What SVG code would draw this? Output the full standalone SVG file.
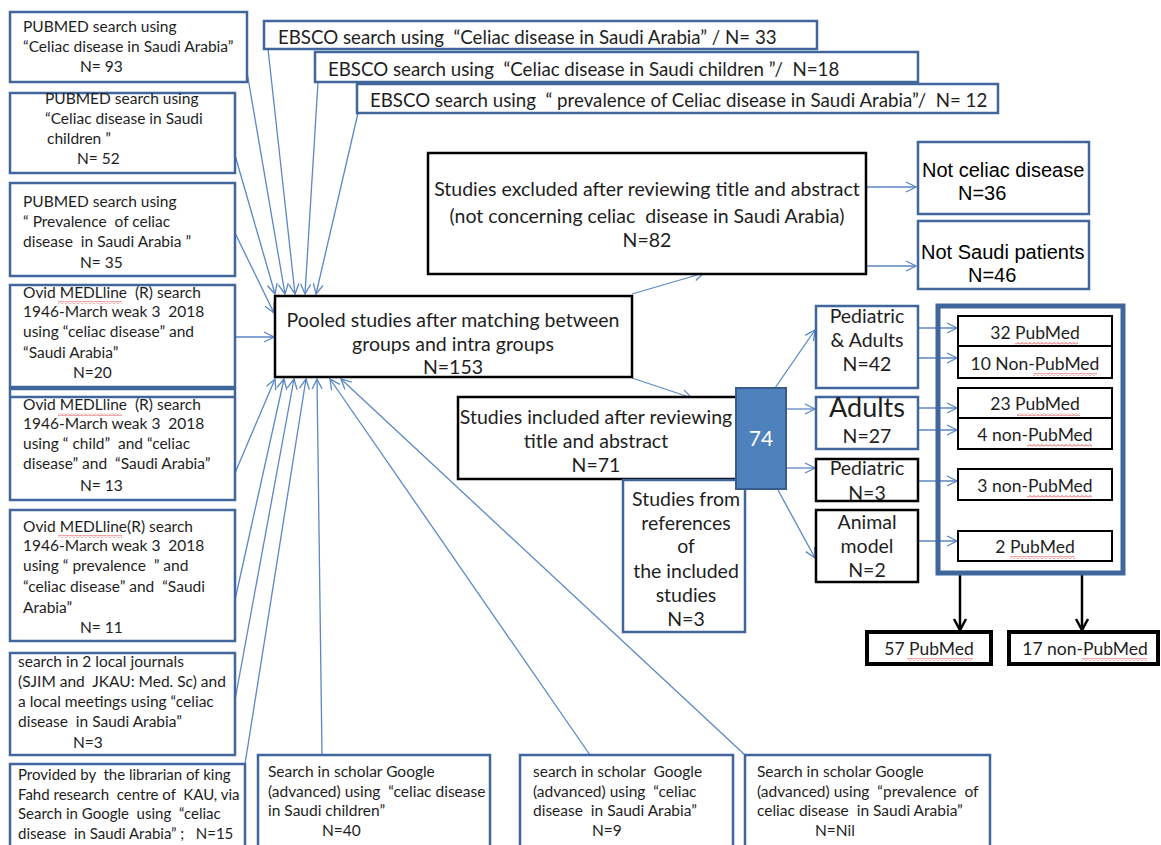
<svg xmlns="http://www.w3.org/2000/svg" width="1161" height="845" viewBox="0 0 1161 845" xml:space="preserve">
<defs>
<style>
.bx{fill:#fff;stroke:#41669b;stroke-width:2.5}
.bk{fill:#fff;stroke:#000;stroke-width:2.5}
.t{font-family:Lato,"Liberation Sans",sans-serif;fill:#1e1e1e;white-space:pre}
.s{font-size:15.5px}
.e{font-size:18.7px}
.m{font-size:19.5px}
.c{text-anchor:middle}
.a{font-family:"Liberation Sans",Arial,sans-serif;font-size:20px;fill:#000}
.cn line,.cn path{stroke:#5b87c5;stroke-width:1.3;fill:none;marker-end:url(#ah)}
.cn .bl{stroke:#000;stroke-width:2.5;marker-end:url(#ab)}
.sq{fill:url(#wave)}
</style>
<marker id="ah" viewBox="0 0 12 12" refX="11" refY="6" markerWidth="12" markerHeight="12" markerUnits="userSpaceOnUse" orient="auto"><path d="M1,1 L11,6 L1,11" fill="none" stroke="#5b87c5" stroke-width="1.3"/></marker>
<marker id="ab" viewBox="0 0 14 14" refX="12" refY="7" markerWidth="14" markerHeight="14" markerUnits="userSpaceOnUse" orient="auto"><path d="M1,1 L12,7 L1,13" fill="none" stroke="#000" stroke-width="2.5"/></marker>
<pattern id="wave" width="4" height="3" patternUnits="userSpaceOnUse"><path d="M0,2.5 L2,0.5 L4,2.5" fill="none" stroke="#e02020" stroke-width="0.8"/></pattern>
</defs>
<rect width="1161" height="845" fill="#fff"/>

<g id="connectors" class="cn">
<line x1="247" y1="72" x2="285" y2="294"/>
<line x1="235" y1="155" x2="275" y2="294"/>
<line x1="268" y1="49" x2="295" y2="294"/>
<line x1="318" y1="82" x2="305" y2="294"/>
<line x1="358" y1="113" x2="316" y2="294"/>
<line x1="235" y1="233" x2="274" y2="313"/>
<line x1="235" y1="337" x2="274" y2="337"/>
<line x1="235" y1="473" x2="275" y2="379"/>
<line x1="235" y1="600" x2="284" y2="379"/>
<line x1="235" y1="700" x2="294" y2="379"/>
<line x1="245" y1="764" x2="306" y2="379"/>
<line x1="322" y1="755" x2="317" y2="379"/>
<line x1="590" y1="755" x2="330" y2="379"/>
<line x1="745" y1="755" x2="341" y2="379"/>
<line x1="632" y1="294" x2="704" y2="273"/>
<line x1="632" y1="378" x2="692" y2="398"/>
<line x1="866" y1="187" x2="916" y2="187"/>
<line x1="866" y1="266" x2="916" y2="266"/>
<line x1="775" y1="388" x2="815" y2="330"/>
<line x1="786" y1="409" x2="815" y2="409"/>
<line x1="786" y1="468" x2="815" y2="468"/>
<line x1="778" y1="490" x2="815" y2="558"/>
<line x1="918" y1="328" x2="957" y2="328"/>
<line x1="918" y1="358" x2="957" y2="358"/>
<line x1="918" y1="408" x2="957" y2="408"/>
<line x1="918" y1="430" x2="957" y2="430"/>
<line x1="918" y1="481" x2="957" y2="481"/>
<line x1="918" y1="541" x2="957" y2="541"/>
<line class="bl" x1="960" y1="575" x2="960" y2="630"/>
<line class="bl" x1="1082" y1="575" x2="1082" y2="630"/>
</g>

<g id="pubmed1"><rect class="bx" x="10" y="12" width="237" height="70"/>
<text class="t s" x="23" y="32">PUBMED search using</text>
<text class="t s" x="23" y="52">“Celiac disease in Saudi Arabia”</text>
<text class="t s" x="80" y="72">N= 93</text></g>

<g id="pubmed2"><rect class="bx" x="10" y="93" width="225" height="80"/>
<text class="t s" x="45" y="104">PUBMED search using</text>
<text class="t s" x="45" y="124">“Celiac disease in Saudi</text>
<text class="t s" x="47" y="144">children ”</text>
<text class="t s" x="77" y="164">N= 52</text></g>

<g id="pubmed3"><rect class="bx" x="10" y="183" width="225" height="93"/>
<text class="t s" x="23" y="207">PUBMED search using</text>
<text class="t s" x="23" y="227">“ Prevalence  of celiac</text>
<text class="t s" x="23" y="247">disease  in Saudi Arabia ”</text>
<text class="t s" x="80" y="268">N= 35</text></g>

<g id="ovid1"><rect class="bx" x="10" y="285" width="225" height="102"/>
<text class="t s" x="23" y="298">Ovid MEDLline  (R) search</text>
<text class="t s" x="23" y="317">1946-March weak 3  2018</text>
<text class="t s" x="23" y="337">using “celiac disease” and</text>
<text class="t s" x="23" y="358">“Saudi Arabia”</text>
<text class="t s" x="73" y="378">N=20</text></g>

<g id="ovid2"><rect class="bx" x="10" y="389" width="225" height="111"/>
<line x1="10" y1="397" x2="235" y2="397" stroke="#41669b" stroke-width="2.5"/>
<text class="t s" x="23" y="410">Ovid MEDLline  (R) search</text>
<text class="t s" x="23" y="429">1946-March weak 3  2018</text>
<text class="t s" x="23" y="449">using “ child”  and “celiac</text>
<text class="t s" x="23" y="469">disease” and  “Saudi Arabia”</text>
<text class="t s" x="80" y="491">N= 13</text></g>

<g id="ovid3"><rect class="bx" x="10" y="510" width="225" height="131"/>
<text class="t s" x="23" y="532">Ovid MEDLline(R) search</text>
<text class="t s" x="23" y="551">1946-March weak 3  2018</text>
<text class="t s" x="23" y="571">using “ prevalence  ” and</text>
<text class="t s" x="23" y="592">“celiac disease” and  “Saudi</text>
<text class="t s" x="23" y="613">Arabia”</text>
<text class="t s" x="80" y="633">N= 11</text></g>

<g id="local"><rect class="bx" x="10" y="653" width="225" height="102"/>
<text class="t s" x="18" y="667">search in 2 local journals</text>
<text class="t s" x="18" y="687">(SJIM and  JKAU: Med. Sc) and</text>
<text class="t s" x="18" y="707">a local meetings using “celiac</text>
<text class="t s" x="18" y="727">disease  in Saudi Arabia”</text>
<text class="t s" x="73" y="748">N=3</text></g>

<g id="librarian"><rect class="bx" x="10" y="764" width="235" height="95"/>
<text class="t" style="font-size:15px" x="18" y="780">Provided by  the librarian of king</text>
<text class="t" style="font-size:15px" x="18" y="800">Fahd research  centre of  KAU, via</text>
<text class="t" style="font-size:15px" x="18" y="819">Search in Google  using  “celiac</text>
<text class="t" style="font-size:15px" x="18" y="839">disease  in Saudi Arabia” ;   N=15</text></g>

<g id="ebsco1"><rect class="bx" x="264" y="21" width="553" height="28"/>
<text class="t e" x="278" y="44">EBSCO search using  “Celiac disease in Saudi Arabia” / N= 33</text></g>
<g id="ebsco2"><rect class="bx" x="315" y="52" width="603" height="30"/>
<text class="t e" x="328" y="76">EBSCO search using  “Celiac disease in Saudi children ”/  N=18</text></g>
<g id="ebsco3"><rect class="bx" x="357" y="84" width="641" height="29"/>
<text class="t e" x="370" y="107">EBSCO search using  “ prevalence of Celiac disease in Saudi Arabia”/  N= 12</text></g>

<g id="pooled"><rect class="bk" x="275" y="296" width="357" height="81"/>
<text class="t m c" x="453" y="327">Pooled studies after matching between</text>
<text class="t m c" x="453" y="351">groups and intra groups</text>
<text class="t m c" x="453" y="374">N=153</text></g>

<g id="excluded"><rect class="bk" x="428" y="153" width="438" height="121"/>
<text class="t m c" x="647" y="196">Studies excluded after reviewing title and abstract</text>
<text class="t m c" x="647" y="223">(not concerning celiac  disease in Saudi Arabia)</text>
<text class="t m c" x="647" y="247">N=82</text></g>

<g id="notceliac"><rect class="bx" x="918" y="142" width="171" height="72"/>
<text class="a" x="922" y="177">Not celiac disease</text>
<text class="a" x="958" y="200">N=36</text></g>

<g id="notsaudi"><rect class="bx" x="918" y="221" width="171" height="68"/>
<text class="a" x="921" y="259">Not Saudi patients</text>
<text class="a" x="968" y="282">N=46</text></g>

<g id="included"><rect class="bk" x="458" y="397" width="290" height="82"/>
<text class="t m c" x="596" y="424">Studies included after reviewing</text>
<text class="t m c" x="596" y="448">title and abstract</text>
<text class="t m c" x="596" y="472">N=71</text></g>

<g id="references"><rect class="bx" x="623" y="480" width="122" height="152"/>
<text class="t m c" x="686" y="506">Studies from</text>
<text class="t m c" x="686" y="530">references</text>
<text class="t m c" x="686" y="553">of</text>
<text class="t m c" x="686" y="578">the included</text>
<text class="t m c" x="686" y="602">studies</text>
<text class="t m c" x="686" y="626">N=3</text></g>

<g id="total74"><rect x="736" y="388" width="50" height="101" fill="#4f81bd" stroke="#385d8a" stroke-width="2"/>
<text class="t c" x="761" y="446" style="font-size:21px;fill:#fff">74</text></g>

<g id="pedadults"><rect class="bx" x="816" y="306" width="102" height="82"/>
<text class="t m c" x="867" y="323">Pediatric</text>
<text class="t m c" x="867" y="347">&amp; Adults</text>
<text class="t m c" x="867" y="371">N=42</text></g>

<g id="adults"><rect class="bx" x="816" y="397" width="102" height="52"/>
<text class="t c" x="867" y="417" style="font-size:27px">Adults</text>
<text class="t m c" x="867" y="443">N=27</text></g>

<g id="pediatric"><rect class="bk" x="816" y="459" width="102" height="42"/>
<text class="t m c" x="867" y="475">Pediatric</text>
<text class="t m c" x="867" y="500">N=3</text></g>

<g id="animal"><rect class="bk" x="816" y="510" width="102" height="72"/>
<text class="t m c" x="867" y="529">Animal</text>
<text class="t m c" x="867" y="553">model</text>
<text class="t m c" x="867" y="577">N=2</text></g>

<g id="container"><rect x="938" y="306" width="185" height="267" fill="none" stroke="#41669b" stroke-width="5"/></g>

<g id="pm32"><rect class="bk" x="958" y="316" width="154" height="30" style="stroke-width:2"/>
<text class="t c" x="1035" y="339" style="font-size:17.5px">32 PubMed</text></g>
<g id="npm10"><rect class="bk" x="958" y="346" width="154" height="32" style="stroke-width:2"/>
<text class="t c" x="1035" y="370" style="font-size:17.5px">10 Non-PubMed</text></g>
<g id="pm23"><rect class="bk" x="958" y="388" width="154" height="30" style="stroke-width:2"/>
<text class="t c" x="1035" y="410" style="font-size:17.5px">23 PubMed</text></g>
<g id="npm4"><rect class="bk" x="958" y="418" width="154" height="31" style="stroke-width:2"/>
<text class="t c" x="1035" y="441" style="font-size:17.5px">4 non-PubMed</text></g>
<g id="npm3"><rect class="bk" x="958" y="469" width="154" height="31" style="stroke-width:2"/>
<text class="t c" x="1035" y="492" style="font-size:17.5px">3 non-PubMed</text></g>
<g id="pm2"><rect class="bk" x="958" y="531" width="154" height="30" style="stroke-width:2"/>
<text class="t c" x="1035" y="553" style="font-size:17.5px">2 PubMed</text></g>

<g id="pm57"><rect x="867" y="632" width="124" height="32" fill="#fff" stroke="#000" stroke-width="4"/>
<text class="t c" x="929" y="655" style="font-size:17.5px">57 PubMed</text></g>
<g id="npm17"><rect x="1009" y="632" width="149" height="32" fill="#fff" stroke="#000" stroke-width="4"/>
<text class="t c" x="1085" y="655" style="font-size:17.5px">17 non-PubMed</text></g>

<g id="scholar1"><rect class="bx" x="258" y="755" width="232" height="100"/>
<text class="t s" x="268" y="777">Search in scholar Google</text>
<text class="t s" x="268" y="797">(advanced) using  “celiac disease</text>
<text class="t s" x="268" y="816">in Saudi children”</text>
<text class="t s" x="322" y="836">N=40</text></g>

<g id="scholar2"><rect class="bx" x="520" y="755" width="213" height="100"/>
<text class="t s" x="533" y="777">search in scholar  Google</text>
<text class="t s" x="533" y="797">(advanced) using  “celiac</text>
<text class="t s" x="533" y="816">disease  in Saudi Arabia”</text>
<text class="t s" x="592" y="836">N=9</text></g>

<g id="scholar3"><rect class="bx" x="745" y="755" width="245" height="100"/>
<text class="t s" x="757" y="777">Search in scholar Google</text>
<text class="t s" x="757" y="797">(advanced) using  “prevalence  of</text>
<text class="t s" x="757" y="816">celiac disease  in Saudi Arabia”</text>
<text class="t s" x="815" y="836">N=Nil</text></g>

<g id="spellmarks">
<rect class="sq" x="58" y="301" width="64" height="3"/>
<rect class="sq" x="58" y="413" width="64" height="3"/>
<rect class="sq" x="58" y="535" width="64" height="3"/>
<rect class="sq" x="1015" y="342" width="63" height="3"/>
<rect class="sq" x="1033" y="373" width="64" height="3"/>
<rect class="sq" x="1017" y="413" width="63" height="3"/>
<rect class="sq" x="1027" y="444" width="65" height="3"/>
<rect class="sq" x="1027" y="495" width="65" height="3"/>
<rect class="sq" x="1010" y="556" width="65" height="3"/>
<rect class="sq" x="907" y="658" width="66" height="3"/>
<rect class="sq" x="1082" y="658" width="65" height="3"/>
</g>
</svg>
